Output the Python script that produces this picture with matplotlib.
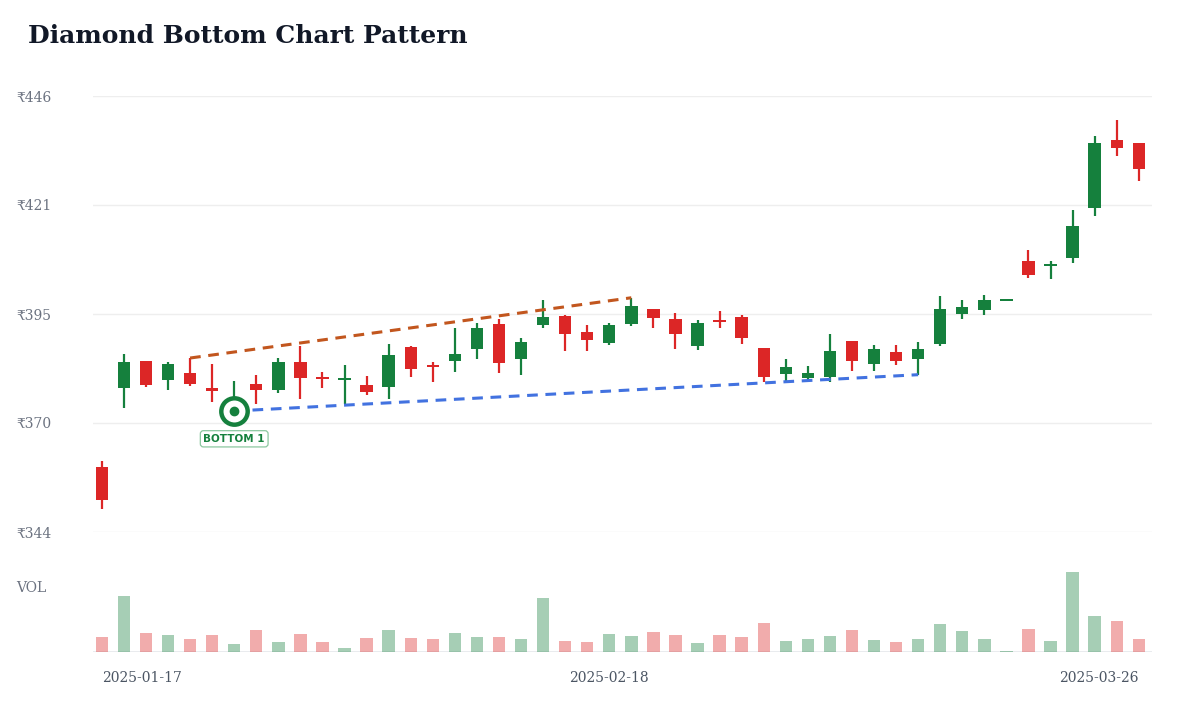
import matplotlib
matplotlib.use("Agg")
import matplotlib.pyplot as plt
import numpy as np

plt.rcParams['font.family'] = ['DejaVu Serif', 'DejaVu Sans']

# daily candles, 2025-01-17 .. 2025-03-26
opens = [359.3, 378.0, 384.1, 379.8, 381.3, 378.0, 373.8, 378.9, 377.4, 384.0,
         380.4, 379.9, 378.6, 378.2, 387.5, 383.1, 384.2, 387.1, 392.8, 384.6,
         392.7, 394.8, 390.9, 388.4, 392.8, 396.3, 394.0, 387.7, 393.7, 394.4,
         387.2, 381.1, 380.2, 380.5, 388.8, 383.5, 386.4, 384.6, 388.1, 395.2,
         396.1, 398.4, 407.7, 406.4, 408.2, 420.1, 435.9, 435.1]
highs = [360.8, 385.8, 384.3, 384.0, 384.9, 383.6, 379.6, 381.0, 384.9, 387.6,
         381.7, 383.3, 380.8, 388.1, 387.7, 384.0, 392.0, 393.0, 394.0, 389.7,
         398.5, 394.9, 392.7, 393.1, 399.0, 396.4, 395.5, 393.9, 395.8, 395.0,
         387.3, 384.6, 383.1, 390.6, 388.9, 388.0, 388.0, 388.7, 399.4, 398.5,
         399.6, 398.4, 410.1, 407.5, 419.5, 436.9, 440.5, 435.2]
lows = [349.5, 373.2, 378.2, 377.4, 378.4, 374.6, 372.5, 374.1, 376.8, 375.4,
        377.9, 374.1, 376.3, 375.4, 380.5, 379.4, 381.6, 384.6, 381.4, 381.0,
        392.0, 386.6, 386.6, 387.9, 392.4, 392.0, 387.0, 386.7, 391.9, 388.1,
        379.4, 379.6, 379.4, 379.2, 381.9, 381.9, 383.3, 381.0, 387.7, 394.0,
        395.0, 398.4, 403.6, 403.3, 407.1, 418.2, 432.2, 426.2]
closes = [351.6, 384.0, 378.6, 383.5, 378.9, 377.2, 375.2, 377.5, 384.0, 380.3,
          380.2, 380.1, 376.9, 385.6, 382.4, 382.9, 385.8, 391.9, 383.8, 388.7,
          394.5, 390.5, 389.1, 392.7, 397.0, 394.2, 390.6, 393.1, 393.5, 389.5,
          380.5, 382.8, 381.5, 386.6, 384.2, 387.0, 384.2, 387.0, 396.3, 396.9,
          398.4, 398.4, 404.4, 406.9, 415.7, 435.2, 434.1, 429.1]
volumes = [214, 825, 275, 255, 195, 250, 115, 315, 145, 265,
           145, 65, 205, 325, 210, 195, 275, 220, 215, 195,
           785, 165, 145, 265, 235, 295, 245, 135, 245, 225,
           430, 160, 190, 235, 320, 170, 140, 195, 415, 305,
           190, 8, 330, 160, 1165, 520, 455, 185]
volumes = [v * 1000 for v in volumes]

tick_idx = [0, 23, 47]
tick_labels = ["2025-01-17", "2025-02-18", "2025-03-26"]
price_ticks = [344.2, 369.7, 395.2, 420.7, 446.2]

# pattern lines: resistance over highs, support under lows
res_pts = (4, 24)
sup_pts = (6, 37)
bottom_idx = 6

GREEN = "#15803d"
RED = "#dc2626"

o = np.array(opens); h = np.array(highs); l = np.array(lows); c = np.array(closes)
x = np.arange(len(o))
up = c >= o
cols = np.where(up, GREEN, RED)

fig = plt.figure(figsize=(12, 7.2), dpi=100)
ax = fig.add_axes([93/1200, 1 - 532/720, (1152 - 93)/1200, (532 - 96)/720])
axv = fig.add_axes([93/1200, 1 - 652/720, (1152 - 93)/1200, 82/720], sharex=ax)

# grid
for t in price_ticks:
    ax.axhline(t, color="#eeeeee", lw=1, zorder=0)

# candles
ax.vlines(x, l, h, color=cols, lw=1.6, zorder=2)
body_h = np.maximum(np.abs(c - o), 0.5)
ax.bar(x, body_h, bottom=np.minimum(o, c) - (body_h - np.abs(c - o)) / 2,
       width=0.56, color=cols, zorder=3)

# pattern lines
ax.plot(res_pts, [h[res_pts[0]], h[res_pts[1]]], ls=(0, (3.5, 2.5)), color="#c2561e", lw=2.2, zorder=4)
ax.plot(sup_pts, [l[sup_pts[0]], l[sup_pts[1]]], ls=(0, (3.5, 2.5)), color="#4272e0", lw=2.2, zorder=4)

# bottom marker
ax.plot(bottom_idx, l[bottom_idx], "o", ms=19, mfc="white", mec=GREEN, mew=3.2, zorder=6)
ax.plot(bottom_idx, l[bottom_idx], "o", ms=6, color=GREEN, zorder=7)
ax.annotate("BOTTOM 1", (bottom_idx, l[bottom_idx]), xytext=(0, -20), textcoords="offset points",
            ha="center", va="center", fontsize=7.5, fontweight="bold", color=GREEN,
            family=["DejaVu Sans"],
            bbox=dict(boxstyle="round,pad=0.3,rounding_size=0.3", fc="white", ec="#8cc7a0", lw=0.9),
            zorder=8)

ax.set_xlim(-0.4, 47.6)
ax.set_ylim(price_ticks[0], price_ticks[-1])
ax.set_yticks(price_ticks, [f"₹{t:.0f}" for t in price_ticks])
ax.tick_params(axis="y", length=0, pad=55, labelsize=10, labelcolor="#6b7280")
for lab in ax.get_yticklabels():
    lab.set_ha("left")
ax.tick_params(axis="x", bottom=False, labelbottom=False)
for s in ax.spines.values():
    s.set_visible(False)

# volume
axv.bar(x, volumes, width=0.56, color=cols, alpha=0.38, zorder=2)
axv.axhline(0, color="#e5e7eb", lw=1.2, zorder=1)
axv.set_ylim(0, max(volumes) * 1.03)
axv.set_yticks([])
axv.set_xticks(tick_idx, tick_labels)
axv.tick_params(axis="x", length=0, pad=14, labelsize=10, labelcolor="#4b5563")
xl = axv.get_xticklabels()
xl[0].set_ha("left")
xl[-1].set_ha("right")
for s in axv.spines.values():
    s.set_visible(False)

fig.text(16/1200, 1 - 588/720, "VOL", fontsize=10, color="#6b7280", va="center")
fig.text(28/1200, 1 - 36/720, "Diamond Bottom Chart Pattern", fontsize=18, fontweight="bold",
         color="#111827", va="center")

fig.savefig("out.png", dpi=100, facecolor="white")
